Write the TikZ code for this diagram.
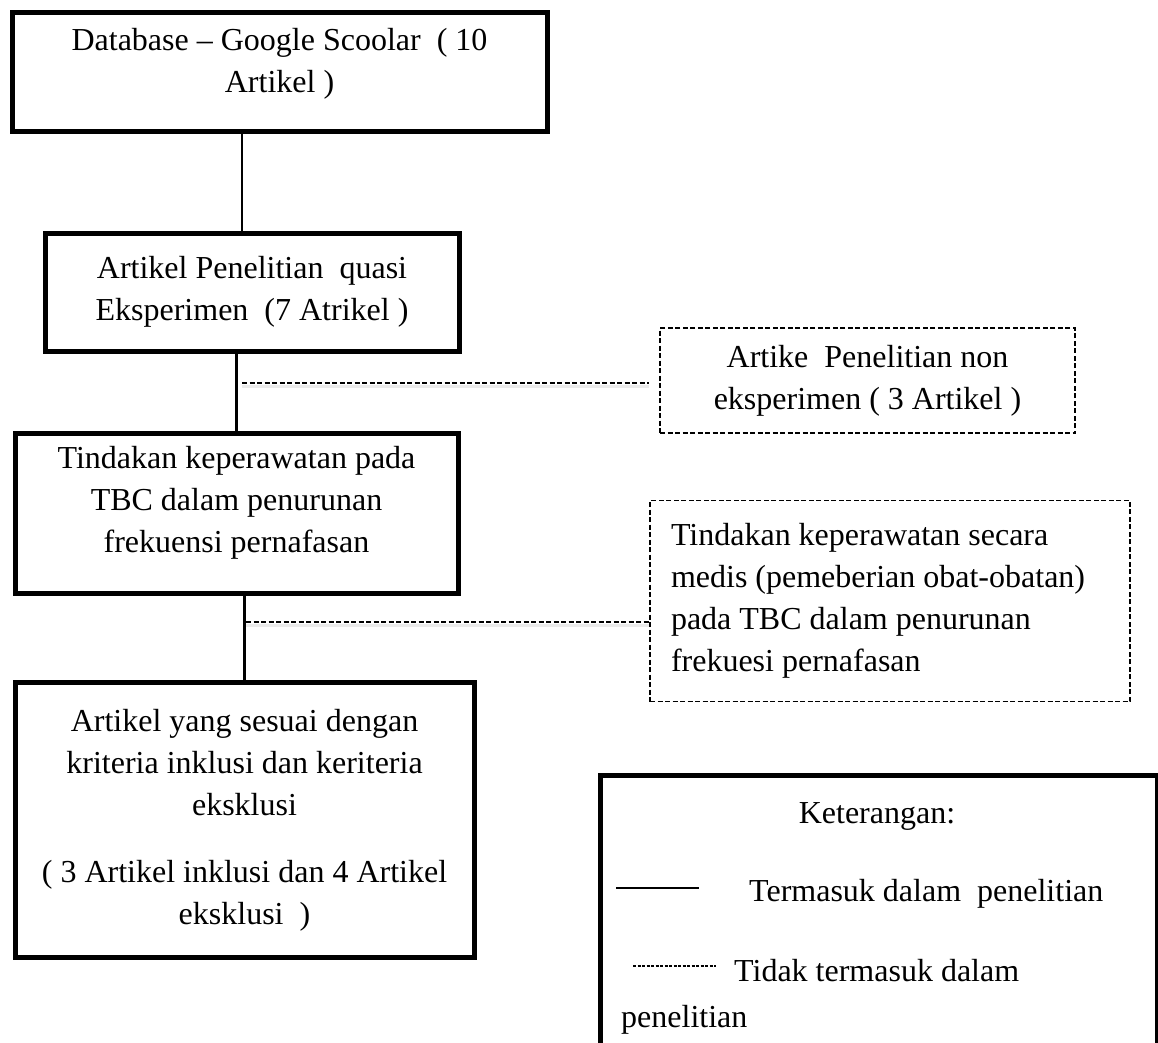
\documentclass[tikz,border=0pt]{standalone}
\usepackage{fontspec}
\setmainfont{Liberation Serif}
\usetikzlibrary{arrows}

\begin{document}
\begin{tikzpicture}[x=1pt,y=-1pt,
  font=\fontsize{32}{42}\selectfont,
  box/.style={draw,line width=5pt,align=center,inner sep=0pt},
  exbox/.style={draw,line width=1.5pt,dash pattern=on 5pt off 2.5pt,inner sep=0pt},
  conn/.style={line width=2.5pt},
  exline/.style={line width=1.5pt,dash pattern=on 5pt off 2.5pt},
  exshadow/.style={line width=3pt,black!8}]
\clip (0,0) rectangle (1158,1043);
\fill[white] (0,0) rectangle (1158,1043);
% main flow
\node[box,minimum width=535,minimum height=119] (db) at (279.5,72.5) {};
\node[align=center,inner sep=0pt] (dbtext) at ([yshift=9pt]db.center)
  {Database – Google Scoolar\ \ ( 10\\Artikel )};
\node[box,minimum width=414,minimum height=118] (quasi) at (252,292)
  {Artikel Penelitian\ \ quasi\\Eksperimen\ \ (7 Atrikel )};
\node[box,minimum width=443,minimum height=160] (tind) at (236.5,513) {};
\node[align=center,inner sep=0pt] (tindtext) at ([yshift=10pt]tind.center)
  {Tindakan keperawatan pada\\TBC dalam penurunan\\frekuensi pernafasan};
\node[box,minimum width=459,minimum height=275] (hasil) at (244.5,820)
  {Artikel yang sesuai dengan\\kriteria inklusi dan keriteria\\eksklusi\\[25pt]( 3 Artikel inklusi dan 4 Artikel\\eksklusi\ \ )};
% excluded
\node[exbox,minimum width=415,minimum height=105,align=center] (nonexp) at (867.5,380.5)
  {Artike\ \ Penelitian non\\eksperimen ( 3 Artikel )};
\node[exbox,text width=438,inner xsep=21pt,minimum height=201,align=flush left] (medis) at (890,601)
  {Tindakan keperawatan secara\\medis (pemeberian obat-obatan)\\pada TBC dalam penurunan\\frekuesi pernafasan};
% connectors
\coordinate (j1) at (242,0);
\draw[conn] (db.south -| j1) -- (quasi.north -| j1);
\draw[conn] (quasi.south -| tind.north) -- (tind.north);
\draw[conn] (tind.south -| hasil.north) -- (hasil.north);
\coordinate (e1) at (242,383);
\coordinate (e2) at (246,622);
\draw[exshadow] ([yshift=-3pt]e1) -- ([xshift=-10pt,yshift=-3pt]nonexp.west |- e1);
\draw[exshadow] ([yshift=-3pt]e2) -- ([yshift=-3pt]medis.west |- e2);
\draw[exline] (e1) -- ([xshift=-10pt]nonexp.west |- e1);
\draw[exline] (e2) -- (medis.west |- e2);
% legend
\node[box,minimum width=557,minimum height=320,anchor=north west] (ket) at (598,773) {};
\node[anchor=base] (kettitle) at (877,823) {Keterangan:};
\draw[line width=2pt] (616,888) -- (699,888);
\node[anchor=base west,inner sep=0pt] (incl) at (749,901) {Termasuk dalam\ \ penelitian};
\draw[line width=1.2pt,dash pattern=on 3pt off 1.5pt] (633,966) -- (716,966);
\node[anchor=base west,inner sep=0pt] (excl) at (734,981) {Tidak termasuk dalam};
\node[anchor=base west,inner sep=0pt] (excl2) at (621,1027) {penelitian};
\end{tikzpicture}
\end{document}
